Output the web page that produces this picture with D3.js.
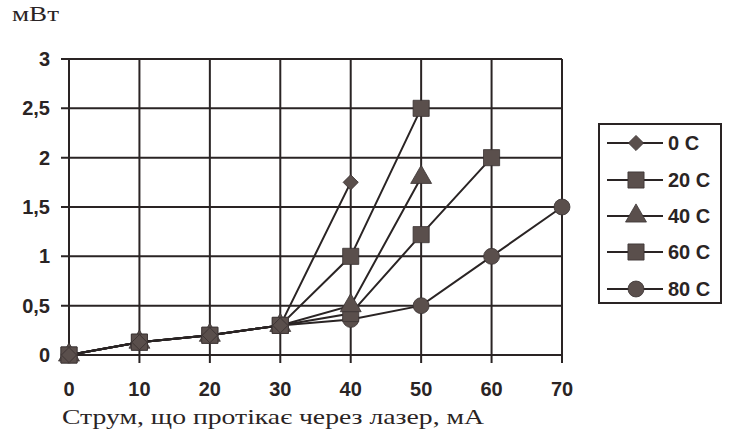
<!DOCTYPE html>
<html><head><meta charset="utf-8">
<script src="https://cdn.jsdelivr.net/npm/d3@7"></script>
<style>body{margin:0;background:#fff;}svg{display:block;}</style>
</head><body>
<script>
const xValues = [0, 10, 20, 30, 40, 50, 60, 70];
const seriesNames = ["0 C", "20 C", "40 C", "60 C", "80 C"];
const seriesSymbols = ["diamond", "square", "triangle", "square", "circle"];
const s0 = [0, 0.13, 0.2, 0.3, 1.75];
const s20 = [0, 0.13, 0.2, 0.3, 1.0, 2.5];
const s40 = [0, 0.13, 0.2, 0.3, 0.5, 1.8];
const s60 = [0, 0.13, 0.2, 0.3, 0.42, 1.22, 2.0];
const s80 = [0, 0.13, 0.2, 0.3, 0.36, 0.5, 1.0, 1.5];
const yTicks = [0, 0.5, 1, 1.5, 2, 2.5, 3];
const yTickLabels = ["0", "0,5", "1", "1,5", "2", "2,5", "3"];
const xTicks = [0, 10, 20, 30, 40, 50, 60, 70];
const yTitle = "мВт";
const xTitle = "Струм, що протікає через лазер, мА";

const series = [s0, s20, s40, s60, s80];
const W = 747, H = 443;
const svg = d3.select("body").append("svg").attr("width", W).attr("height", H);
const x = d3.scaleLinear().domain([0, 70]).range([69, 562]);
const y = d3.scaleLinear().domain([0, 3]).range([355, 59]);
const lineCol = "#2a2424", markCol = "#5a4f4c";
const sans = "Liberation Sans, Arial, sans-serif", serif = "Liberation Serif, Times New Roman, serif";

// grid
const g = svg.append("g");
g.selectAll(".hg").data(yTicks).join("line")
  .attr("x1", 61).attr("x2", x(70)).attr("y1", d => y(d)).attr("y2", d => y(d))
  .attr("stroke", lineCol).attr("stroke-width", 2);
g.selectAll(".vg").data(xTicks).join("line")
  .attr("x1", d => x(d)).attr("x2", d => x(d)).attr("y1", y(3)).attr("y2", 363)
  .attr("stroke", lineCol).attr("stroke-width", 2);

// tick labels
svg.selectAll(".yl").data(yTicks).join("text")
  .attr("x", 50).attr("y", d => y(d) + 7).attr("text-anchor", "end")
  .attr("font-family", sans).attr("font-weight", "bold")
  .attr("font-size", 20).attr("fill", "#2a2424").text((d, i) => yTickLabels[i]);
svg.selectAll(".xl").data(xTicks).join("text")
  .attr("x", d => x(d)).attr("y", 396).attr("text-anchor", "middle")
  .attr("font-family", sans).attr("font-weight", "bold")
  .attr("font-size", 20).attr("fill", "#2a2424").text(d => d);
svg.append("text").attr("x", 12).attr("y", 21)
  .attr("font-family", serif).attr("font-size", 22)
  .attr("textLength", 47).attr("lengthAdjust", "spacingAndGlyphs")
  .attr("fill", "#2a2424").text(yTitle);
svg.append("text").attr("x", 62).attr("y", 424)
  .attr("font-family", serif).attr("font-size", 22)
  .attr("textLength", 422).attr("lengthAdjust", "spacingAndGlyphs")
  .attr("fill", "#2a2424").text(xTitle);

const symMap = {diamond: d3.symbolSquare, square: d3.symbolSquare, triangle: d3.symbolTriangle, circle: d3.symbolCircle};
const symSize = {diamond: 115, square: 260, triangle: 190, circle: 200};
const symRot = {diamond: 45, square: 0, triangle: 0, circle: 0};
const line = d3.line().x((d, i) => x(xValues[i])).y(d => y(d));

series.forEach((s) => {
  svg.append("path").attr("d", line(s)).attr("fill", "none")
    .attr("stroke", lineCol).attr("stroke-width", 2);
});
[4, 3, 2, 1, 0].forEach(k => {
  const s = series[k], sym = seriesSymbols[k];
  svg.selectAll(null).data(s).join("path")
    .attr("transform", (d, i) => `translate(${x(xValues[i])},${y(d)}) rotate(${symRot[sym]})`)
    .attr("d", d3.symbol().type(symMap[sym]).size(symSize[sym]))
    .attr("fill", markCol).attr("stroke", "#3a3232").attr("stroke-width", 0.8);
});

// legend
const lg = svg.append("g");
lg.append("rect").attr("x", 599).attr("y", 124).attr("width", 122).attr("height", 179)
  .attr("fill", "#fff").attr("stroke", lineCol).attr("stroke-width", 2);
const ly = [143, 180, 216, 252, 289];
seriesNames.forEach((n, k) => {
  const sym = seriesSymbols[k];
  lg.append("line").attr("x1", 607).attr("x2", 663).attr("y1", ly[k]).attr("y2", ly[k])
    .attr("stroke", lineCol).attr("stroke-width", 2);
  lg.append("path").attr("transform", `translate(636,${ly[k]}) rotate(${symRot[sym]})`)
    .attr("d", d3.symbol().type(symMap[sym]).size(symSize[sym]))
    .attr("fill", markCol).attr("stroke", "#3a3232").attr("stroke-width", 0.8);
  lg.append("text").attr("x", 668).attr("y", ly[k] + 7)
    .attr("font-family", sans).attr("font-weight", "bold")
    .attr("font-size", 20).attr("fill", "#2a2424").text(n);
});
</script>
</body></html>
